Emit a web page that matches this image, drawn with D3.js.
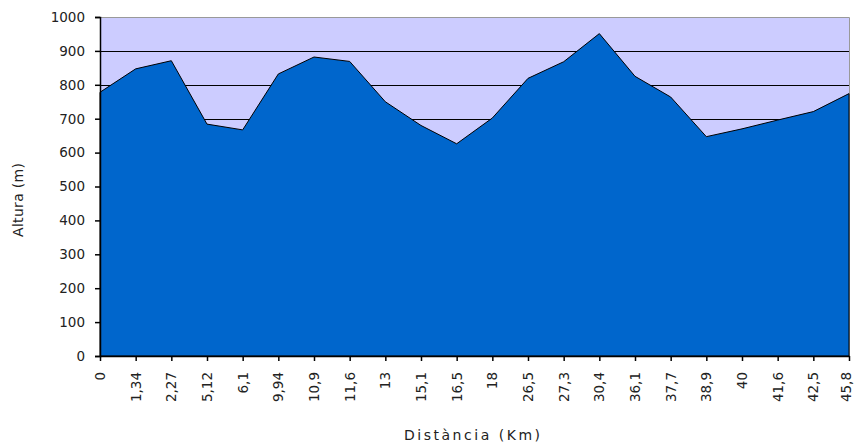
<!DOCTYPE html>
<html><head><meta charset="utf-8">
<script src="https://cdn.jsdelivr.net/npm/d3@7"></script>
<style>
body{margin:0;background:#fff;}
svg{display:block;}
text{font-family:"DejaVu Sans",Verdana,sans-serif;fill:#222;}
</style></head>
<body>
<svg id="c" width="854" height="443"></svg>
<script>
const categories = ["0","1,34","2,27","5,12","6,1","9,94","10,9","11,6","13","15,1","16,5","18","26,5","27,3","30,4","36,1","37,7","38,9","40","41,6","42,5","45,8"];
const altitudes = [778,847,871,684,667,832,882,869,750,680,626,702,819,868,951,825,764,647,670,696,721,774];
const yTicks = [0,100,200,300,400,500,600,700,800,900,1000];

const svg = d3.select("#c");
const L=100,R=849,T=17,B=356;
const x = d3.scalePoint().domain(categories).range([L,R]);
const y = d3.scaleLinear().domain([0,1000]).range([B,T]);

svg.append("rect").attr("x",L).attr("y",T).attr("width",R-L).attr("height",B-T).attr("fill","#ccccff");

svg.append("g").selectAll("line").data(yTicks.filter(d=>d>0)).join("line")
  .attr("x1",L).attr("x2",R).attr("y1",d=>Math.round(y(d))+0.5).attr("y2",d=>Math.round(y(d))+0.5)
  .attr("stroke","#000").attr("stroke-width",1);

svg.append("path").attr("d",`M${L},${T+0.5}H${R+0.5}V${B}`).attr("fill","none").attr("stroke","#999");

const data = categories.map((c,i)=>({c,v:altitudes[i]}));
const area = d3.area().x(d=>x(d.c)).y0(B).y1(d=>y(d.v));
svg.append("path").datum(data).attr("d",area).attr("fill","#0066cc").attr("stroke","#000").attr("stroke-width",1);

const ya = svg.append("g").attr("transform",`translate(${L},0)`)
  .call(d3.axisLeft(y).tickValues(yTicks).tickSize(5).tickPadding(10).tickFormat(d3.format("d")));
ya.select(".domain").attr("stroke","#000").attr("stroke-width",1.5);
ya.selectAll(".tick line").attr("stroke","#000").attr("stroke-width",1.5);
ya.selectAll("text").style("font-size","13.5px").attr("fill","#222");

const xa = svg.append("g").attr("transform",`translate(0,${B})`)
  .call(d3.axisBottom(x).tickSize(5).tickPadding(0).tickSizeOuter(0));
xa.select(".domain").attr("stroke","#000").attr("stroke-width",1.5);
xa.selectAll(".tick line").attr("stroke","#000").attr("stroke-width",1.5);
xa.selectAll("text").style("font-size","13.5px").attr("fill","#222")
  .attr("transform","rotate(-90)").attr("text-anchor","end").attr("x",-16)
  .attr("y",(d,i)=> i===categories.length-1 ? -3 : 0).attr("dy","0.33em");

svg.append("text").attr("x",472).attr("y",440).attr("text-anchor","middle")
  .style("font-size","14px").attr("textLength",136).attr("lengthAdjust","spacing").text("Distància (Km)");
svg.append("text").attr("transform","translate(23,200) rotate(-90)").attr("text-anchor","middle")
  .style("font-size","14px").attr("textLength",74).attr("lengthAdjust","spacing").text("Altura (m)");
</script>
</body></html>
